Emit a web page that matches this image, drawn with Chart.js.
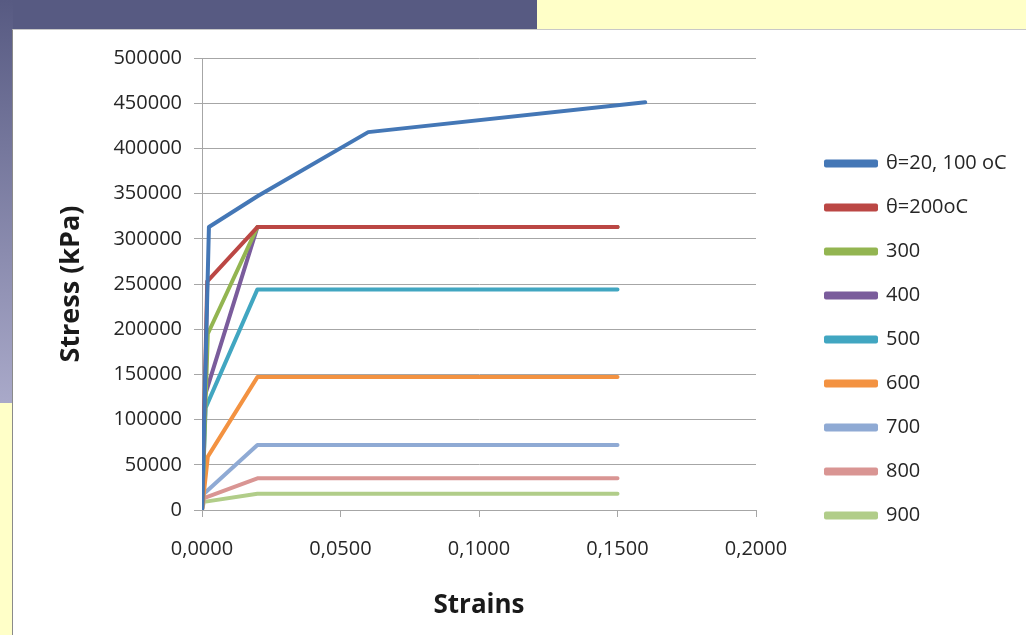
<!DOCTYPE html>
<html lang="en">
<head>
  <meta charset="UTF-8">
  <title>Stress - Strain</title>
  <script src="https://cdn.jsdelivr.net/npm/chart.js"></script>
  <style>
    html, body { margin: 0; padding: 0; }
    body { width: 1026px; height: 635px; position: relative; overflow: hidden; background: #ffffc8; }
    .band-top { position: absolute; left: 0; top: 0; width: 537px; height: 30px; background: #575a82; }
    .band-left { position: absolute; left: 0; top: 0; width: 13px; height: 403px; background: linear-gradient(#575a82, #a9a9c9); }
    .sheet { position: absolute; left: 12px; top: 29px; width: 1014px; height: 606px; background: #fff;
             border-left: 1px solid #8a8a8a; border-top: 1px solid #c8c8c8; box-sizing: border-box; }
    #chart { position: absolute; left: 0; top: 0; }
  </style>
</head>
<body>
  <div class="band-top"></div>
  <div class="band-left"></div>
  <div class="sheet">
    <canvas id="chart" width="1013" height="605"></canvas>
  </div>

  <script>
    // series names (legend)
    const seriesNames = ['θ=20, 100 oC', 'θ=200oC', '300', '400', '500', '600', '700', '800', '900'];
    const seriesColors = ['#4477b6', '#bb4744', '#93b551', '#7a5c9c', '#41a6c1', '#f39241', '#8faad4', '#d99593', '#b1cd89'];

    // strains / stresses (kPa)
    const strain20 = [0, 0.0025, 0.02, 0.06, 0.16];
    const stress20 = [0, 313000, 347000, 418000, 451000];
    const strain200 = [0, 0.0019, 0.02, 0.15];
    const stress200 = [0, 253000, 313000, 313000];
    const strain300 = [0, 0.0021, 0.02, 0.15];
    const stress300 = [0, 195000, 313000, 313000];
    const strain400 = [0, 0.0011, 0.02, 0.15];
    const stress400 = [0, 127000, 313000, 313000];
    const strain500 = [0, 0.0013, 0.02, 0.15];
    const stress500 = [0, 113000, 244000, 244000];
    const strain600 = [0, 0.0021, 0.02, 0.15];
    const stress600 = [0, 59000, 147000, 147000];
    const strain700 = [0, 0.0007, 0.02, 0.15];
    const stress700 = [0, 18000, 72000, 72000];
    const strain800 = [0, 0.0007, 0.02, 0.15];
    const stress800 = [0, 13000, 35000, 35000];
    const strain900 = [0, 0.0007, 0.02, 0.15];
    const stress900 = [0, 9000, 18000, 18000];

    const strains = [strain20, strain200, strain300, strain400, strain500, strain600, strain700, strain800, strain900];
    const stresses = [stress20, stress200, stress300, stress400, stress500, stress600, stress700, stress800, stress900];

    // axis ticks
    const xMin = 0, xMax = 0.2, xStep = 0.05;
    const yMin = 0, yMax = 500000, yStep = 50000;

    const fontFamily = "'Open Sans', 'Liberation Sans', sans-serif";
    const gridColor = '#a6a6a6';

    // legend box: fixed width, items pushed right by a gap from the plot
    const LEGEND_W = 270;
    const LEGEND_GAP = 46;
    const LEGEND_SHIFT_Y = -7;

    const legendPlacer = {
      id: 'legendPlacer',
      beforeLayout(chart) {
        const lg = chart.legend;
        if (lg && !lg._patched) {
          const fit = lg.fit;
          lg.fit = function () {
            fit.call(this);
            this.width = LEGEND_W;
          };
          lg._patched = true;
        }
      },
      afterLayout(chart) {
        const lg = chart.legend;
        if (!lg) return;
        lg.left += LEGEND_GAP;
        lg.right += LEGEND_GAP;
        lg.top += LEGEND_SHIFT_Y;
        lg.bottom += LEGEND_SHIFT_Y;
      }
    };

    const datasets = seriesNames.map((name, i) => ({
      label: name,
      data: strains[i].map((s, j) => ({ x: s, y: stresses[i][j] })),
      borderColor: seriesColors[i],
      backgroundColor: seriesColors[i],
      borderWidth: 4,
      pointRadius: 0,
      tension: 0,
      borderJoinStyle: 'round',
      borderCapStyle: 'round',
      fill: false
    }));

    new Chart(document.getElementById('chart'), {
      type: 'line',
      data: { datasets: datasets },
      plugins: [legendPlacer],
      options: {
        responsive: false,
        animation: false,
        layout: { padding: { top: 28, right: 0, left: 0, bottom: 0 } },
        scales: {
          x: {
            type: 'linear',
            min: xMin, max: xMax,
            grid: { drawOnChartArea: false, color: gridColor, tickLength: 7 },
            border: { color: gridColor, width: 1 },
            ticks: {
              stepSize: xStep, color: '#262626', padding: 20,
              font: { family: fontFamily, size: 20 },
              callback: v => v.toFixed(4).replace('.', ',')
            },
            title: {
              display: true, text: 'Strains', color: '#1a1a1a',
              font: { family: fontFamily, size: 26, weight: 'bold' },
              padding: { top: 0, bottom: 14 }
            },
            afterFit(scale) { scale.height = 125; }
          },
          y: {
            type: 'linear',
            min: yMin, max: yMax,
            grid: { color: gridColor, tickLength: 8 },
            border: { color: gridColor, width: 1 },
            ticks: {
              stepSize: yStep, color: '#262626', padding: 12,
              font: { family: fontFamily, size: 20 },
              callback: v => String(v)
            },
            title: {
              display: true, text: 'Stress (kPa)', color: '#1a1a1a',
              font: { family: fontFamily, size: 27, weight: 'bold' },
              padding: { top: 42, bottom: 0 }
            },
            afterFit(scale) { scale.width = 189; }
          }
        },
        plugins: {
          legend: {
            position: 'right',
            align: 'center',
            labels: {
              boxWidth: 50, boxHeight: 4,
              padding: 24,
              color: '#262626',
              font: { family: fontFamily, size: 20 }
            }
          },
          tooltip: { enabled: false }
        }
      }
    });
  </script>
</body>
</html>
